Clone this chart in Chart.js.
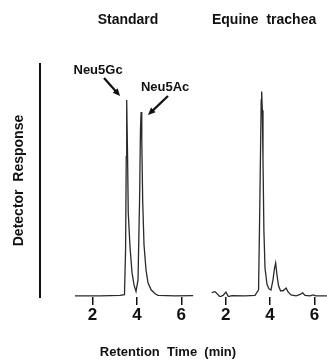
<!DOCTYPE html>
<html>
<head>
<meta charset="utf-8">
<script src="https://cdn.jsdelivr.net/npm/chart.js@4.4.1/dist/chart.umd.min.js"></script>
<style>
    body { margin: 0; background: #fff; }
    #wrap { position: relative; width: 327px; height: 362px; }
</style>
</head>
<body>
<div id="wrap"><canvas id="chromChart"></canvas></div>
<script>
// Standard (Neu5Gc + Neu5Ac), retention time in min
const standardTime = [1.21, 2.34, 3.24, 3.44, 3.49, 3.52, 3.54, 3.58, 3.61, 3.69, 3.78, 3.87, 3.96,
    4.05, 4.12, 4.16, 4.19, 4.22, 4.26, 4.32, 4.41, 4.50, 4.64, 4.82, 4.95, 5.72, 6.53];
const standardResponse = [0, 0, 0.2, 0.5, 20, 60, 84.5, 60, 36, 21, 10, 4.7, 1.9,
    6.9, 41, 71.5, 79.3, 67, 41, 22, 11.2, 5.6, 2.6, 0.9, 0.2, 0, 0.1];

// Equine trachea sample
const tracheaTime = [1.37, 1.52, 1.74, 1.88, 2.01, 2.12, 2.28, 2.87, 3.32, 3.48, 3.52, 3.57, 3.60,
    3.62, 3.65, 3.68, 3.72, 3.77, 3.86, 3.95, 4.04, 4.13, 4.20, 4.25, 4.31, 4.38, 4.47, 4.58,
    4.72, 4.81, 4.94, 5.17, 5.35, 5.47, 5.57, 5.80, 5.93, 6.07, 6.56];
const tracheaResponse = [1.4, 1.8, -0.4, 0.2, 1.6, -0.3, 0.1, 0, 0.2, 2.6, 28, 63, 84.5,
    88.1, 80, 58.6, 28.4, 12, 5, 3, 2.5, 6.9, 12, 14.2, 9, 4.3, 2.2, 2.2,
    3.4, 1.7, 0.4, 0, 0.6, 1.3, 0.2, 0, 0.4, 0, 0];

const tickTimes = [2, 4, 6];
const panelTitles = ['Standard', 'Equine  trachea'];
const peakLabels = ['Neu5Gc', 'Neu5Ac'];

// the second panel sits to the right of the first on the same axis
const PANEL_OFFSET = 6;

const toPoints = (xs, ys, off) => xs.map((x, i) => ({ x: x + off, y: ys[i] }));

const allTicks = tickTimes.concat(tickTimes.map(t => t + PANEL_OFFSET));

function arrow(ctx, x1, y1, x2, y2) {
    const ang = Math.atan2(y2 - y1, x2 - x1);
    const hl = 8;
    ctx.beginPath();
    ctx.moveTo(x1, y1);
    ctx.lineTo(x2 - Math.cos(ang) * hl * 0.8, y2 - Math.sin(ang) * hl * 0.8);
    ctx.stroke();
    ctx.beginPath();
    ctx.moveTo(x2, y2);
    ctx.lineTo(x2 - hl * Math.cos(ang - 0.42), y2 - hl * Math.sin(ang - 0.42));
    ctx.lineTo(x2 - hl * Math.cos(ang + 0.42), y2 - hl * Math.sin(ang + 0.42));
    ctx.closePath();
    ctx.fill();
}

const labelsPlugin = {
    id: 'labels',
    afterDraw(chart) {
        const ctx = chart.ctx;
        const xs = chart.scales.x, ys = chart.scales.y;
        ctx.save();
        ctx.fillStyle = '#111';
        ctx.strokeStyle = '#111';
        ctx.textAlign = 'center';
        ctx.textBaseline = 'middle';

        // panel titles
        ctx.font = 'bold 14px "Liberation Sans", Arial, sans-serif';
        ctx.fillText(panelTitles[0], xs.getPixelForValue(3.6), 20);
        ctx.fillText(panelTitles[1], xs.getPixelForValue(3.73 + PANEL_OFFSET), 20);

        // peak annotations
        ctx.font = 'bold 13px "Liberation Sans", Arial, sans-serif';
        ctx.fillText(peakLabels[0], xs.getPixelForValue(2.25), ys.getPixelForValue(97.4));
        ctx.fillText(peakLabels[1], xs.getPixelForValue(5.27), ys.getPixelForValue(90));
        ctx.lineWidth = 2.2;
        arrow(ctx, xs.getPixelForValue(2.52), ys.getPixelForValue(94),
            xs.getPixelForValue(3.24), ys.getPixelForValue(86.2));
        arrow(ctx, xs.getPixelForValue(5.40), ys.getPixelForValue(86.2),
            xs.getPixelForValue(4.50), ys.getPixelForValue(78));

        // x axis title
        ctx.font = 'bold 13px "Liberation Sans", Arial, sans-serif';
        ctx.fillText('Retention  Time  (min)', 168, 352);
        ctx.restore();
    }
};

const lineStyle = {
    borderColor: '#2a2a2a',
    borderWidth: 1.3,
    pointRadius: 0,
    tension: 0,
    fill: false
};

new Chart(document.getElementById('chromChart').getContext('2d'), {
    type: 'line',
    data: {
        datasets: [
            Object.assign({ label: 'Standard', data: toPoints(standardTime, standardResponse, 0) }, lineStyle),
            Object.assign({ label: 'Equine trachea', data: toPoints(tracheaTime, tracheaResponse, PANEL_OFFSET) }, lineStyle)
        ]
    },
    options: {
        responsive: true,
        maintainAspectRatio: false,
        animation: false,
        layout: { padding: { top: 64, left: 0, right: 0, bottom: 0 } },
        plugins: { legend: { display: false }, tooltip: { enabled: false } },
        scales: {
            x: {
                type: 'linear',
                min: -0.365,
                max: 12.563,
                afterBuildTicks: s => { s.ticks = allTicks.map(v => ({ value: v })); },
                afterFit: s => { s.height = 65; },
                border: { display: false },
                grid: { drawOnChartArea: false, drawTicks: true, tickLength: 8, color: '#111', lineWidth: 1.5 },
                ticks: {
                    padding: 0,
                    color: '#111',
                    font: { family: '"Liberation Sans", Arial, sans-serif', size: 17, weight: 'bold' },
                    callback: v => (v > PANEL_OFFSET ? v - PANEL_OFFSET : v)
                }
            },
            y: {
                min: -0.5,
                max: 100,
                afterFit: s => { s.width = 40; },
                grid: { display: false },
                ticks: { display: false },
                border: { display: true, color: '#111', width: 2 },
                title: {
                    display: true,
                    text: 'Detector  Response',
                    color: '#111',
                    padding: { top: 11, bottom: 0 },
                    font: { family: '"Liberation Sans", Arial, sans-serif', size: 14, weight: 'bold' }
                }
            }
        }
    },
    plugins: [labelsPlugin]
});
</script>
</body>
</html>
